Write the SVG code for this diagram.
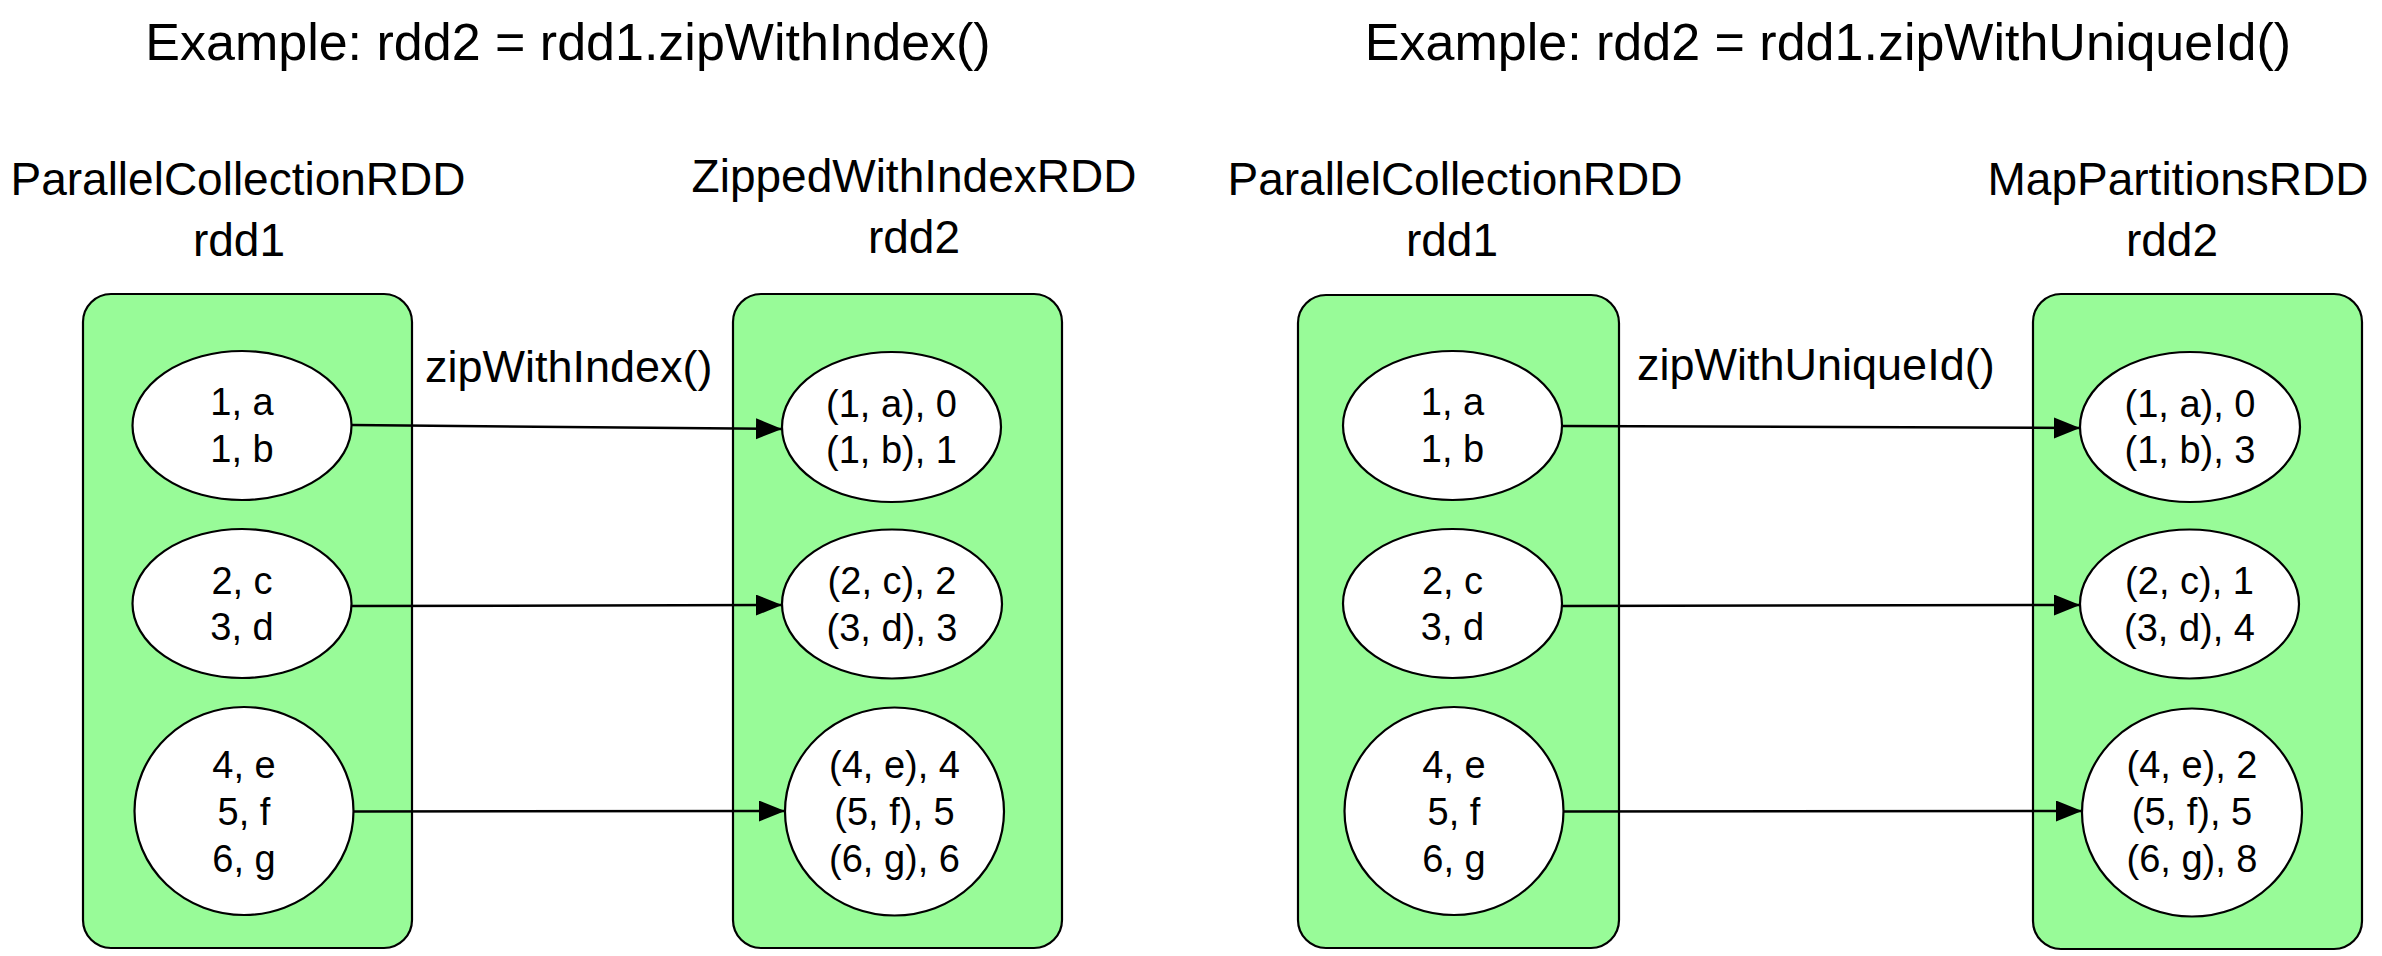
<svg xmlns="http://www.w3.org/2000/svg" width="2382" height="956" viewBox="0 0 2382 956">
<style>
text{font-family:"Liberation Sans",Arial,Helvetica,sans-serif;fill:#000;text-anchor:middle}
.title{font-size:52px}
.lbl{font-size:46px}
.elbl{font-size:45px;text-anchor:start}
.nt{font-size:38px}
.box{fill:#98fb98;stroke:#000;stroke-width:2.2}
.ell{fill:#fff;stroke:#000;stroke-width:2.2}
.edge{fill:none;stroke:#000;stroke-width:2.5;marker-end:url(#arr)}
</style>
<defs>
<marker id="arr" markerUnits="userSpaceOnUse" markerWidth="27" markerHeight="22" refX="26" refY="10.5" orient="auto">
<path d="M0,0 L26,10.5 L0,21 Z" fill="#000"/>
</marker>
</defs>
<rect width="2382" height="956" fill="#fff"/>

<!-- Diagram 1 -->
<text id="title1" class="title" x="568" y="60">Example: rdd2 = rdd1.zipWithIndex()</text>

<g id="rdd1_a">
<text class="lbl" x="238" y="195">ParallelCollectionRDD</text>
<text class="lbl" x="239" y="256">rdd1</text>
<rect class="box" x="83" y="294" width="329" height="654" rx="28" ry="28"/>
</g>
<g id="rdd2_a">
<text class="lbl" x="914" y="192">ZippedWithIndexRDD</text>
<text class="lbl" x="914" y="253">rdd2</text>
<rect class="box" x="733" y="294" width="329" height="654" rx="28" ry="28"/>
</g>

<g id="a_p1">
<ellipse class="ell" cx="242" cy="425.5" rx="109.5" ry="74.5"/>
<text class="nt" x="242" y="415">1, a</text>
<text class="nt" x="242" y="462">1, b</text>
</g>
<g id="a_p2">
<ellipse class="ell" cx="242" cy="603.5" rx="109.5" ry="74.5"/>
<text class="nt" x="242" y="594">2, c</text>
<text class="nt" x="242" y="640">3, d</text>
</g>
<g id="a_p3">
<ellipse class="ell" cx="244" cy="811" rx="109.5" ry="104"/>
<text class="nt" x="244" y="778">4, e</text>
<text class="nt" x="244" y="825">5, f</text>
<text class="nt" x="244" y="872">6, g</text>
</g>
<g id="a_q1">
<ellipse class="ell" cx="891.5" cy="427" rx="109.5" ry="75"/>
<text class="nt" x="891.5" y="417">(1, a), 0</text>
<text class="nt" x="891.5" y="463">(1, b), 1</text>
</g>
<g id="a_q2">
<ellipse class="ell" cx="892" cy="604" rx="110" ry="74.5"/>
<text class="nt" x="892" y="594">(2, c), 2</text>
<text class="nt" x="892" y="641">(3, d), 3</text>
</g>
<g id="a_q3">
<ellipse class="ell" cx="894.5" cy="811.5" rx="109.5" ry="104"/>
<text class="nt" x="894.5" y="778">(4, e), 4</text>
<text class="nt" x="894.5" y="825">(5, f), 5</text>
<text class="nt" x="894.5" y="872">(6, g), 6</text>
</g>

<!-- Diagram 2 -->
<text id="title2" class="title" x="1828" y="60">Example: rdd2 = rdd1.zipWithUniqueId()</text>

<g id="rdd1_b">
<text class="lbl" x="1455" y="195">ParallelCollectionRDD</text>
<text class="lbl" x="1452" y="256">rdd1</text>
<rect class="box" x="1298" y="295" width="321" height="653" rx="28" ry="28"/>
</g>
<g id="rdd2_b">
<text class="lbl" x="2178" y="195">MapPartitionsRDD</text>
<text class="lbl" x="2172" y="256">rdd2</text>
<rect class="box" x="2033" y="294" width="329" height="655" rx="28" ry="28"/>
</g>

<g id="b_p1">
<ellipse class="ell" cx="1452.5" cy="425.5" rx="109.5" ry="74.5"/>
<text class="nt" x="1452.5" y="415">1, a</text>
<text class="nt" x="1452.5" y="462">1, b</text>
</g>
<g id="b_p2">
<ellipse class="ell" cx="1452.5" cy="603.5" rx="109.5" ry="74.5"/>
<text class="nt" x="1452.5" y="594">2, c</text>
<text class="nt" x="1452.5" y="640">3, d</text>
</g>
<g id="b_p3">
<ellipse class="ell" cx="1454" cy="811" rx="109.5" ry="104"/>
<text class="nt" x="1454" y="778">4, e</text>
<text class="nt" x="1454" y="825">5, f</text>
<text class="nt" x="1454" y="872">6, g</text>
</g>
<g id="b_q1">
<ellipse class="ell" cx="2190" cy="427" rx="110" ry="75"/>
<text class="nt" x="2190" y="417">(1, a), 0</text>
<text class="nt" x="2190" y="463">(1, b), 3</text>
</g>
<g id="b_q2">
<ellipse class="ell" cx="2189.5" cy="604" rx="109.5" ry="74.5"/>
<text class="nt" x="2189.5" y="594">(2, c), 1</text>
<text class="nt" x="2189.5" y="641">(3, d), 4</text>
</g>
<g id="b_q3">
<ellipse class="ell" cx="2192" cy="812.5" rx="110" ry="104"/>
<text class="nt" x="2192" y="778">(4, e), 2</text>
<text class="nt" x="2192" y="825">(5, f), 5</text>
<text class="nt" x="2192" y="872">(6, g), 8</text>
</g>

<g id="connectors">
<path class="edge" d="M352,425 L782,429"/>
<path class="edge" d="M351,606 L782,605"/>
<path class="edge" d="M354,811.5 L785,811"/>
<text class="elbl" x="425" y="382">zipWithIndex()</text>
<path class="edge" d="M1562,426 L2080,428"/>
<path class="edge" d="M1562,606 L2080,605"/>
<path class="edge" d="M1564,811.5 L2082,811"/>
<text class="elbl" x="1637" y="380">zipWithUniqueId()</text>
</g>
</svg>
